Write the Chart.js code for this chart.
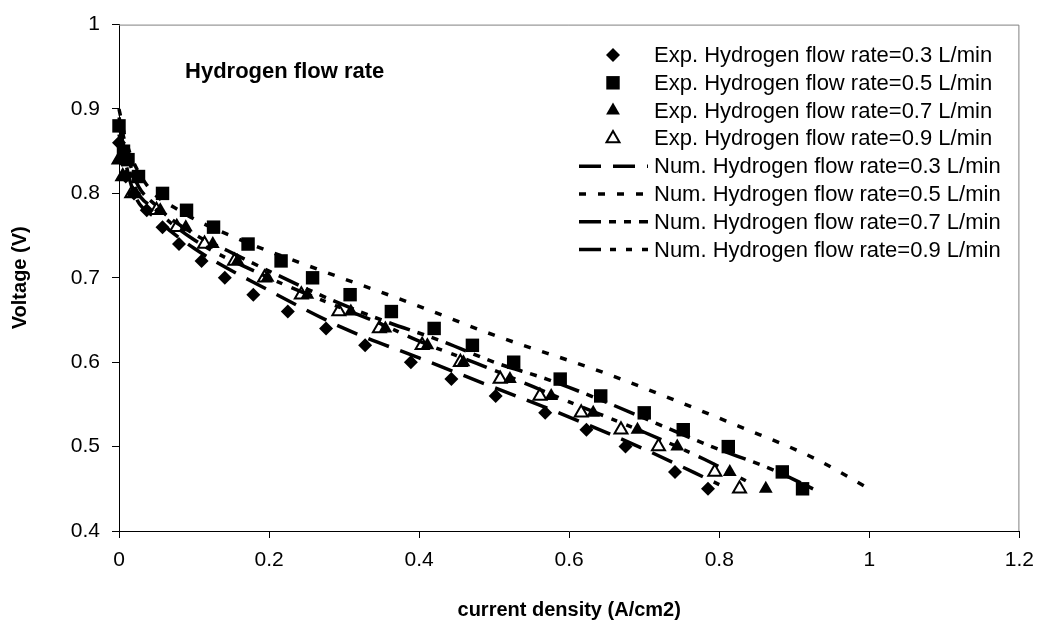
<!DOCTYPE html>
<html>
<head>
<meta charset="utf-8">
<script src="https://cdn.jsdelivr.net/npm/chart.js@4.4.1/dist/chart.umd.min.js"></script>
<style>
  html, body { margin: 0; padding: 0; background: #fff; }
  #wrap { width: 1044px; height: 644px; }
</style>
</head>
<body>
<div id="wrap"><canvas id="grafik" width="1044" height="644"></canvas></div>
<script>
// axis ticks
const xTicks = [0, 0.2, 0.4, 0.6, 0.8, 1, 1.2];
const xTickLabels = ["0", "0.2", "0.4", "0.6", "0.8", "1", "1.2"];
const yTicks = [0.4, 0.5, 0.6, 0.7, 0.8, 0.9, 1];
const yTickLabels = ["0.4", "0.5", "0.6", "0.7", "0.8", "0.9", "1"];

const seriesLabels = [
  "Exp. Hydrogen flow rate=0.3 L/min",
  "Exp. Hydrogen flow rate=0.5 L/min",
  "Exp. Hydrogen flow rate=0.7 L/min",
  "Exp. Hydrogen flow rate=0.9 L/min",
  "Num. Hydrogen flow rate=0.3 L/min",
  "Num. Hydrogen flow rate=0.5 L/min",
  "Num. Hydrogen flow rate=0.7 L/min",
  "Num. Hydrogen flow rate=0.9 L/min"
];

// experimental points (current density A/cm2, voltage V)
const exp03I = [0, 0.004, 0.009, 0.02, 0.037, 0.058, 0.080, 0.110, 0.141, 0.179, 0.225, 0.276, 0.328, 0.389, 0.443, 0.502, 0.568, 0.623, 0.675, 0.741, 0.785];
const exp03V = [0.86, 0.84, 0.82, 0.80, 0.78, 0.76, 0.74, 0.72, 0.70, 0.68, 0.66, 0.64, 0.62, 0.60, 0.58, 0.56, 0.54, 0.52, 0.50, 0.47, 0.45];

const exp05I = [0, 0.006, 0.012, 0.026, 0.058, 0.090, 0.126, 0.172, 0.216, 0.258, 0.308, 0.363, 0.420, 0.471, 0.526, 0.588, 0.642, 0.700, 0.752, 0.812, 0.884, 0.911];
const exp05V = [0.88, 0.85, 0.84, 0.82, 0.80, 0.78, 0.76, 0.74, 0.72, 0.70, 0.68, 0.66, 0.64, 0.62, 0.60, 0.58, 0.56, 0.54, 0.52, 0.50, 0.47, 0.45];

const exp07I = [0, 0.005, 0.019, 0.055, 0.089, 0.125, 0.158, 0.198, 0.251, 0.309, 0.355, 0.411, 0.459, 0.521, 0.576, 0.632, 0.691, 0.744, 0.814, 0.862];
const exp07V = [0.84, 0.82, 0.80, 0.78, 0.76, 0.74, 0.72, 0.70, 0.68, 0.66, 0.64, 0.62, 0.60, 0.58, 0.56, 0.54, 0.52, 0.50, 0.47, 0.45];

const exp09I = [0, 0.005, 0.017, 0.050, 0.077, 0.114, 0.154, 0.194, 0.243, 0.293, 0.347, 0.404, 0.455, 0.508, 0.561, 0.616, 0.669, 0.719, 0.794, 0.827];
const exp09V = [0.84, 0.82, 0.80, 0.78, 0.76, 0.74, 0.72, 0.70, 0.68, 0.66, 0.64, 0.62, 0.60, 0.58, 0.56, 0.54, 0.52, 0.50, 0.47, 0.45];

// numerical curves
const num03I = [0, 0.02, 0.05, 0.1, 0.2, 0.3, 0.4, 0.5, 0.6, 0.7, 0.8];
const num03V = [0.87, 0.80, 0.77, 0.735, 0.685, 0.64, 0.605, 0.57, 0.535, 0.497, 0.455];

const num05I = [0, 0.01, 0.037, 0.08, 0.154, 0.25, 0.389, 0.5, 0.648, 0.829, 0.927, 1.0];
const num05V = [0.90, 0.86, 0.81, 0.78, 0.748, 0.715, 0.67, 0.632, 0.587, 0.523, 0.486, 0.45];

const num07I = [0, 0.02, 0.05, 0.1, 0.145, 0.2, 0.28, 0.35, 0.43, 0.5, 0.57, 0.64, 0.72, 0.79, 0.87, 0.925];
const num07V = [0.89, 0.82, 0.785, 0.752, 0.732, 0.708, 0.675, 0.65, 0.625, 0.60, 0.58, 0.556, 0.526, 0.50, 0.473, 0.45];

const num09I = [0, 0.02, 0.05, 0.1, 0.2, 0.28, 0.35, 0.4, 0.49, 0.6, 0.7, 0.78, 0.845];
const num09V = [0.88, 0.81, 0.78, 0.745, 0.70, 0.67, 0.645, 0.625, 0.594, 0.553, 0.517, 0.485, 0.455];

const annotText = "Hydrogen flow rate";
const annotX = 0.088;
const annotY = 0.944;

const FONT = "'Liberation Sans', Arial, sans-serif";

function pts(xs, ys) {
  return xs.map((x, i) => ({ x: x, y: ys[i] }));
}

function expSet(label, xs, ys, style, radius, fill, order) {
  return {
    label: label,
    data: pts(xs, ys),
    showLine: false,
    pointStyle: style,
    pointRadius: radius,
    pointHoverRadius: radius,
    pointBackgroundColor: fill,
    pointBorderColor: "#000",
    pointBorderWidth: fill === "#fff" ? 2 : 0,
    order: order,
    clip: false
  };
}

function numSet(label, xs, ys, dash) {
  return {
    label: label,
    data: pts(xs, ys),
    showLine: true,
    borderColor: "#000",
    borderWidth: 3.5,
    borderDash: dash,
    pointRadius: 0,
    pointHoverRadius: 0,
    cubicInterpolationMode: "monotone",
    order: 0,
    clip: false
  };
}

const datasets = [
  expSet(seriesLabels[0], exp03I, exp03V, "rectRot", 7, "#000", 3),
  expSet(seriesLabels[1], exp05I, exp05V, "rect", 9.5, "#000", 2),
  expSet(seriesLabels[2], exp07I, exp07V, "triangle", 8, "#000", 1),
  expSet(seriesLabels[3], exp09I, exp09V, "triangle", 7.5, "#fff", 4),
  numSet(seriesLabels[4], num03I, num03V, [22, 12]),
  numSet(seriesLabels[5], num05I, num05V, [7, 12]),
  numSet(seriesLabels[6], num07I, num07V, [22, 8, 7, 8, 7, 8]),
  numSet(seriesLabels[7], num09I, num09V, [22, 9, 6, 10, 6, 10])
];

// grey frame on top and right of the plot area
const plotFrame = {
  id: "plotFrame",
  beforeDatasetsDraw(chart) {
    const a = chart.chartArea;
    const ctx = chart.ctx;
    ctx.save();
    ctx.strokeStyle = "#808080";
    ctx.lineWidth = 1;
    ctx.beginPath();
    ctx.moveTo(a.left, a.top + 0.5);
    ctx.lineTo(a.right - 0.5, a.top + 0.5);
    ctx.lineTo(a.right - 0.5, a.bottom);
    ctx.stroke();
    ctx.restore();
  }
};

// text label inside the plot
const annotation = {
  id: "annotation",
  afterDraw(chart) {
    const ctx = chart.ctx;
    const x = chart.scales.x.getPixelForValue(annotX);
    const y = chart.scales.y.getPixelForValue(annotY);
    ctx.save();
    ctx.font = "bold 22px " + FONT;
    ctx.fillStyle = "#000";
    ctx.textAlign = "left";
    ctx.textBaseline = "middle";
    ctx.fillText(annotText, x, y);
    ctx.restore();
  }
};

// legend in the Excel layout: symbol column then text
const sideLegend = {
  id: "sideLegend",
  afterDraw(chart) {
    const ctx = chart.ctx;
    const top = 55, step = 27.8, symX = 613, lineL = 579, lineR = 648, textX = 654;
    ctx.save();
    chart.data.datasets.forEach((ds, i) => {
      const y = top + i * step;
      if (ds.showLine) {
        ctx.strokeStyle = ds.borderColor;
        ctx.lineWidth = ds.borderWidth;
        ctx.setLineDash(ds.borderDash || []);
        ctx.beginPath();
        ctx.moveTo(lineL, y);
        ctx.lineTo(lineR, y);
        ctx.stroke();
        ctx.setLineDash([]);
      } else {
        ctx.fillStyle = ds.pointBackgroundColor;
        ctx.strokeStyle = ds.pointBorderColor;
        ctx.lineWidth = ds.pointBorderWidth;
        Chart.helpers.drawPoint(ctx, {
          pointStyle: ds.pointStyle,
          radius: ds.pointRadius,
          rotation: 0,
          borderWidth: ds.pointBorderWidth
        }, symX, y);
      }
      ctx.font = "22px " + FONT;
      ctx.fillStyle = "#000";
      ctx.textAlign = "left";
      ctx.textBaseline = "middle";
      ctx.fillText(ds.label, textX, y + 1);
    });
    ctx.restore();
  }
};

const ctx = document.getElementById("grafik").getContext("2d");
new Chart(ctx, {
  type: "scatter",
  data: { datasets: datasets },
  plugins: [plotFrame, annotation, sideLegend],
  options: {
    responsive: false,
    animation: false,
    devicePixelRatio: 1,
    layout: { padding: { top: 15, right: 21, left: 0, bottom: 0 } },
    plugins: {
      legend: { display: false },
      tooltip: { enabled: false }
    },
    scales: {
      x: {
        type: "linear",
        min: 0,
        max: 1.2,
        afterBuildTicks: scale => { scale.ticks = xTicks.map(v => ({ value: v })); },
        afterFit: scale => { scale.height = 113; },
        grid: { drawOnChartArea: false, drawTicks: true, tickLength: 7, color: "#000" },
        border: { color: "#000", width: 1 },
        ticks: {
          color: "#000",
          font: { family: FONT, size: 21 },
          padding: 10,
          maxRotation: 0,
          autoSkip: false,
          callback: (v, i) => xTickLabels[i]
        },
        title: {
          display: true,
          text: "current density (A/cm2)",
          color: "#000",
          font: { family: FONT, size: 20, weight: "bold" },
          padding: { bottom: 22 }
        }
      },
      y: {
        type: "linear",
        min: 0.4,
        max: 1,
        afterBuildTicks: scale => { scale.ticks = yTicks.map(v => ({ value: v })); },
        afterFit: scale => { scale.width = 119; },
        grid: { drawOnChartArea: false, drawTicks: true, tickLength: 7, color: "#000" },
        border: { color: "#000", width: 1 },
        ticks: {
          color: "#000",
          font: { family: FONT, size: 21 },
          padding: 12,
          autoSkip: false,
          callback: (v, i) => yTickLabels[i]
        },
        title: {
          display: true,
          text: "Voltage (V)",
          color: "#000",
          font: { family: FONT, size: 20, weight: "bold" },
          padding: { top: 8 }
        }
      }
    }
  }
});
</script>
</body>
</html>
